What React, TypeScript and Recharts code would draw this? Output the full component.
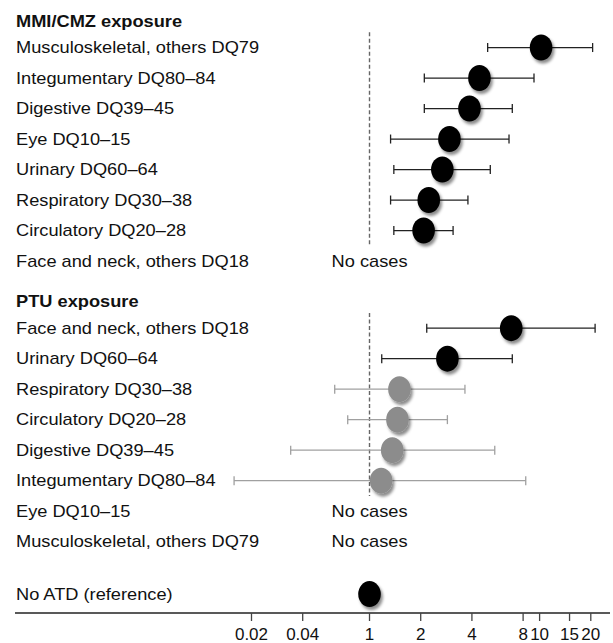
import React from 'react';
import { ScatterChart, Scatter, XAxis, YAxis, ErrorBar, ReferenceLine } from 'recharts';

// odds ratios (null = no cases)
const mmiLabels = [
  'Musculoskeletal, others DQ79',
  'Integumentary DQ80–84',
  'Digestive DQ39–45',
  'Eye DQ10–15',
  'Urinary DQ60–64',
  'Respiratory DQ30–38',
  'Circulatory DQ20–28',
  'Face and neck, others DQ18',
];
const mmiEst = [10.2, 4.43, 3.87, 2.95, 2.68, 2.23, 2.08, null];
const mmiLow = [4.95, 2.1, 2.1, 1.33, 1.39, 1.33, 1.39, null];
const mmiHigh = [20.5, 9.27, 6.91, 6.61, 5.13, 3.79, 3.1, null];

const ptuLabels = [
  'Face and neck, others DQ18',
  'Urinary DQ60–64',
  'Respiratory DQ30–38',
  'Circulatory DQ20–28',
  'Digestive DQ39–45',
  'Integumentary DQ80–84',
  'Eye DQ10–15',
  'Musculoskeletal, others DQ79',
];
const ptuEst = [6.81, 2.87, 1.5, 1.46, 1.36, 1.17, null, null];
const ptuLow = [2.17, 1.18, 0.187, 0.35, 0.034, 0.0158, null, null];
const ptuHigh = [21.2, 6.91, 3.64, 2.87, 5.45, 8.29, null, null];

const referenceLabel = 'No ATD (reference)';
const referenceValue = 1;

const xTicks = [0.02, 0.04, 1, 2, 4, 8, 10, 15, 20];

// broken log2 axis: 0.04..1 is squeezed
const BREAK = 0.04;
const BREAK_T = -1.305;
const toAxis = (v: number) =>
  v >= 1 ? Math.log2(v) : v >= BREAK ? (BREAK_T * Math.log2(v)) / Math.log2(BREAK) : BREAK_T + Math.log2(v / BREAK);

const HEADER_GAP = 0.87;
const SECTION_GAP = 1.33;
const REF_GAP = 1.72;

const FONT = '"Liberation Sans", Arial, Helvetica, sans-serif';

const sections = [
  { title: 'MMI/CMZ exposure', labels: mmiLabels, est: mmiEst, low: mmiLow, high: mmiHigh },
  { title: 'PTU exposure', labels: ptuLabels, est: ptuEst, low: ptuLow, high: ptuHigh },
];

type Row = { y: number; label: string; bold?: boolean };
type Pt = { x: number; y: number; err?: number[] };

const rows: Row[] = [];
const sig: Pt[] = [];
const nonSig: Pt[] = [];
const noCases: Pt[] = [];
const refSegments: number[][] = [];

let pos = 0;
sections.forEach((s, si) => {
  if (si > 0) pos += SECTION_GAP;
  rows.push({ y: pos, label: s.title, bold: true });
  pos += HEADER_GAP;
  let first: number | null = null;
  let last = 0;
  s.labels.forEach((label, i) => {
    if (i > 0) pos += 1;
    rows.push({ y: pos, label });
    const e = s.est[i];
    if (e == null) {
      noCases.push({ x: toAxis(1), y: pos });
      return;
    }
    const x = toAxis(e);
    const pt = { x, y: pos, err: [x - toAxis(s.low[i] as number), toAxis(s.high[i] as number) - x] };
    ((s.low[i] as number) > 1 ? sig : nonSig).push(pt);
    if (first == null) first = pos;
    last = pos;
  });
  refSegments.push([(first as number) - 0.5, last + 0.5]);
});
pos += REF_GAP;
rows.push({ y: pos, label: referenceLabel });
const reference: Pt[] = [{ x: toAxis(referenceValue), y: pos }];

const RowTick = (props: any) => {
  const row = rows.find((r) => Math.abs(r.y - props.payload.value) < 1e-6);
  if (!row) return <g />;
  return (
    <g transform={`translate(16, ${props.y}) scale(1.14, 1)`}>
      <text x={0} y={0} dy="0.35em" fontSize={16} fontFamily={FONT} fontWeight={row.bold ? 700 : 400} fill="#111">
        {row.label}
      </text>
    </g>
  );
};

const AxisTick = (props: any) => {
  const v = xTicks.find((t) => Math.abs(toAxis(t) - props.payload.value) < 1e-6);
  return (
    <text x={props.x} y={props.y + 16.5} textAnchor="middle" fontSize={17} fontFamily={FONT} fill="#111">
      {v}
    </text>
  );
};

const makeDot = (fill: string) => (props: any) =>
  <ellipse cx={props.cx} cy={props.cy} rx={11.3} ry={13} fill={fill} filter="url(#dotShadow)" />;

const NoCasesText = (props: any) => (
  <g transform={`translate(${props.cx}, ${props.cy}) scale(1.14, 1)`}>
    <text x={0} y={0} dy="0.35em" textAnchor="middle" fontSize={16} fontFamily={FONT} fill="#111">
      No cases
    </text>
  </g>
);

export default function App() {
  return (
    <div style={{ position: 'absolute', left: 0, top: 0, width: 613, height: 643, background: '#fff' }}>
      <ScatterChart width={613} height={643} margin={{ top: 0, right: 3, bottom: 0, left: 0 }}>
        <defs>
          <filter id="dotShadow" x="-50%" y="-50%" width="200%" height="200%">
            <feDropShadow dx={2} dy={3} stdDeviation={1.8} floodColor="#000" floodOpacity={0.45} />
          </filter>
        </defs>
        <XAxis
          type="number"
          dataKey="x"
          domain={[-6.924, 4.697]}
          allowDataOverflow
          ticks={xTicks.map(toAxis)}
          interval={0}
          tick={AxisTick}
          tickSize={8}
          height={30}
          axisLine={{ stroke: '#222', strokeWidth: 1.6 }}
          tickLine={{ stroke: '#444', strokeWidth: 1.3 }}
        />
        <YAxis
          type="number"
          dataKey="y"
          reversed
          domain={[-0.6885, 19.41]}
          allowDataOverflow
          ticks={rows.map((r) => r.y)}
          interval={0}
          tick={RowTick}
          width={15}
          axisLine={false}
          tickLine={false}
        />
        {refSegments.map((seg, i) => (
          <ReferenceLine
            key={i}
            segment={[
              { x: 0, y: seg[0] },
              { x: 0, y: seg[1] },
            ]}
            stroke="#666"
            strokeWidth={1.4}
            strokeDasharray="4 2.5"
          />
        ))}
        <Scatter data={nonSig} shape={makeDot('#8c8c8c')} isAnimationActive={false}>
          <ErrorBar dataKey="err" direction="x" width={4.5} stroke="#a0a0a0" strokeWidth={1.3} isAnimationActive={false} />
        </Scatter>
        <Scatter data={sig} shape={makeDot('#000')} isAnimationActive={false}>
          <ErrorBar dataKey="err" direction="x" width={4.5} stroke="#222" strokeWidth={1.3} isAnimationActive={false} />
        </Scatter>
        <Scatter data={reference} shape={makeDot('#000')} isAnimationActive={false} />
        <Scatter data={noCases} shape={<NoCasesText />} isAnimationActive={false} />
      </ScatterChart>
    </div>
  );
}
